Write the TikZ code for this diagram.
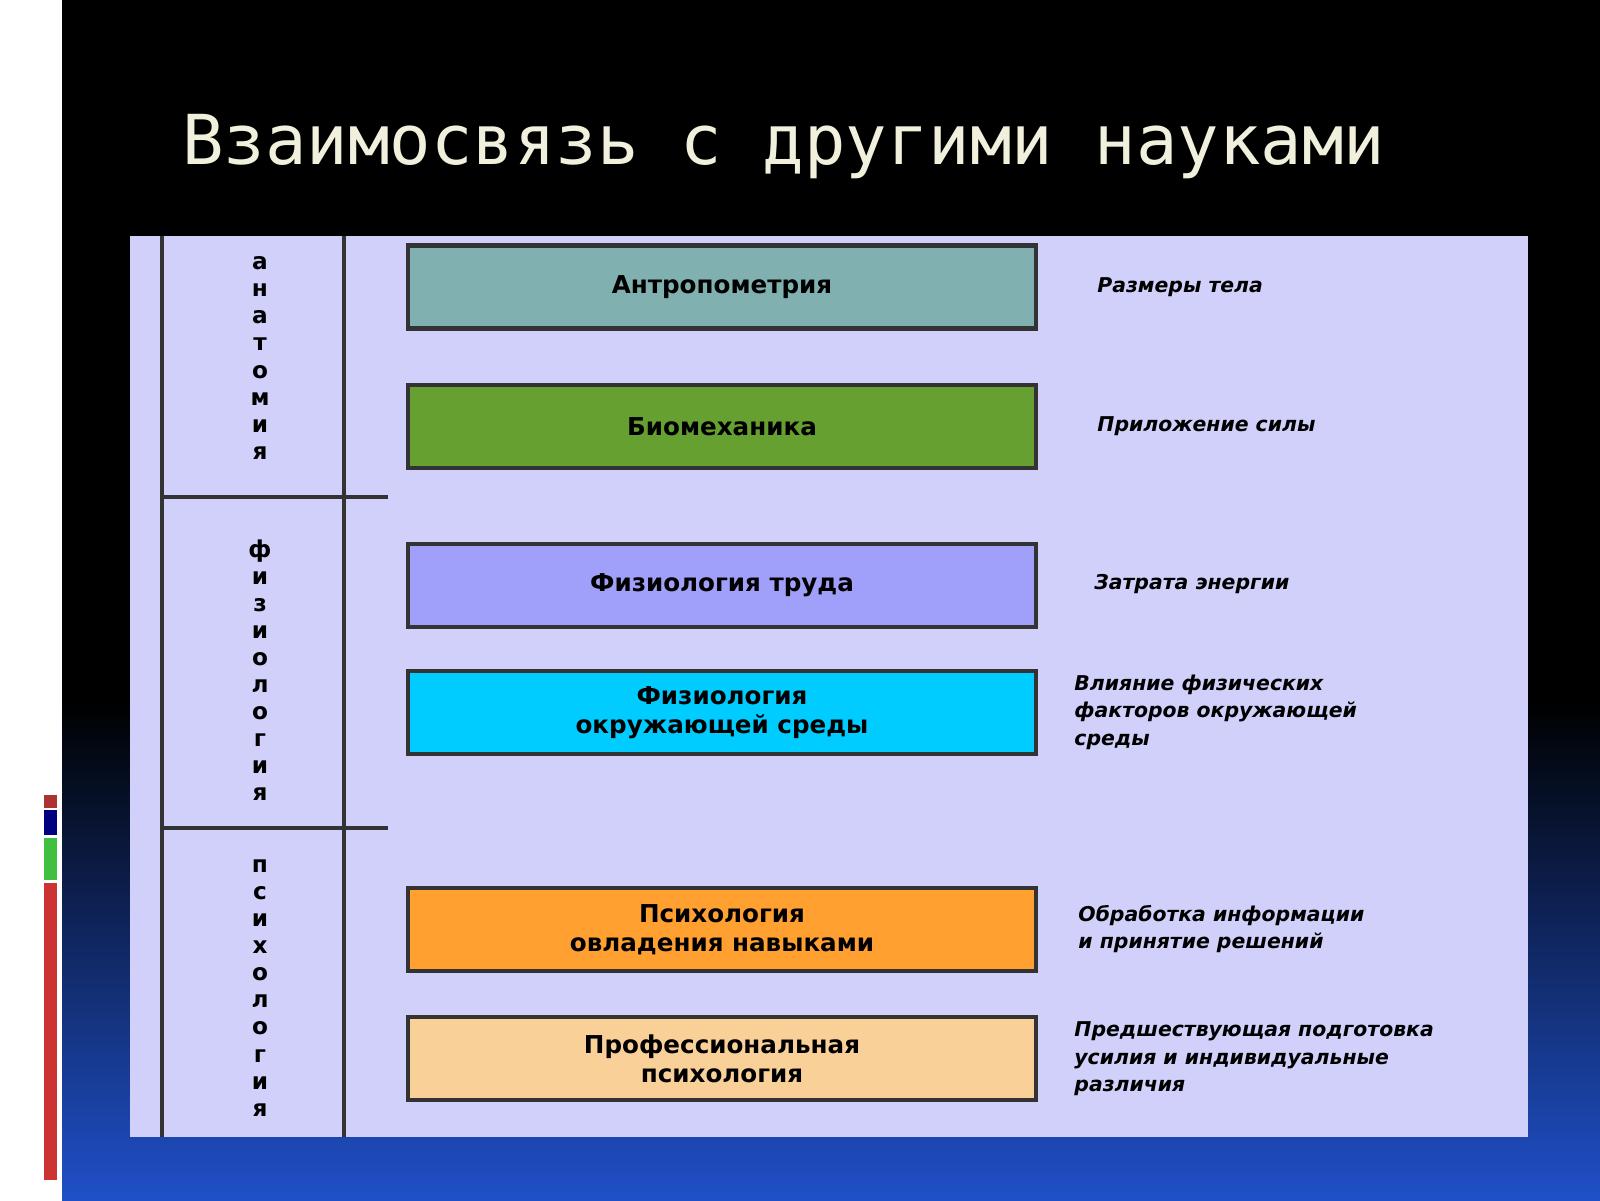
\documentclass[tikz,border=0pt]{standalone}
\usepackage{fontspec}
\setmainfont{DejaVu Sans}
\newfontfamily\titlefont{DejaVu Sans Mono}
\usepackage{tikz}
\definecolor{panelbg}{RGB}{208,208,250}
\definecolor{antrop}{RGB}{128,176,176}
\definecolor{biomech}{RGB}{101,160,48}
\definecolor{fiztrud}{RGB}{160,160,250}
\definecolor{fizsreda}{RGB}{0,204,255}
\definecolor{psihnav}{RGB}{255,160,48}
\definecolor{profpsih}{RGB}{248,208,152}
\definecolor{titlecol}{RGB}{240,240,220}
\definecolor{deepblue}{RGB}{32,80,200}
\tikzset{
  science/.style={draw=black!80, line width=1.2pt, minimum width=6.28cm, minimum height=0.83cm,
    align=center, font=\bfseries\fontsize{7}{8.2}\selectfont},
  effect/.style={anchor=west, align=left, font=\bfseries\itshape\fontsize{5.8}{7.8}\selectfont},
  branch/.style={align=center, font=\bfseries\fontsize{6.6}{7.7}\selectfont},
  divider/.style={line width=1pt, black!80}
}
\begin{document}
\begin{tikzpicture}[x=1cm,y=1cm]
        \useasboundingbox (0,0) rectangle (16,-12);
        % Background
        \fill[white] (0,0) rectangle (0.62,-12);
        \fill[black] (0.62,0) rectangle (16,-7);
        \shade[top color=black, bottom color=deepblue] (0.62,-7) rectangle (16,-12);
        \fill[red!60!black!80] (0.44,-7.95) rectangle (0.57,-8.08);
        \fill[blue!50!black] (0.44,-8.1) rectangle (0.57,-8.35);
        \fill[green!50!gray] (0.44,-8.38) rectangle (0.57,-8.8);
        \fill[red!60!gray] (0.44,-8.83) rectangle (0.57,-11.8);
        
        % Title
        \node[anchor=west, text=titlecol, font=\titlefont\fontsize{19.6}{22}\selectfont] (title) at (1.7,-1.47) {Взаимосвязь с другими науками};
        
        % Panel
        \fill[panelbg] (1.3,-2.36) rectangle (15.28,-11.37);
        \draw[divider] (1.62,-2.36) -- (1.62,-11.37);
        \draw[divider] (3.44,-2.36) -- (3.44,-11.37);
        \draw[divider] (1.62,-4.97) -- (3.88,-4.97);
        \draw[divider] (1.62,-8.28) -- (3.88,-8.28);
        
        % Branches
        \node[branch] (anat) at (2.6,-3.58) {а\\н\\а\\т\\о\\м\\и\\я};
        \node[branch] (fiziol) at (2.6,-6.7) {ф\\и\\з\\и\\о\\л\\о\\г\\и\\я};
        \node[branch] (psih) at (2.6,-9.88) {п\\с\\и\\х\\о\\л\\о\\г\\и\\я};
        
        % Sciences
        \node[science, fill=antrop] (b1) at (7.22,-2.87) {Антропометрия};
        \node[science, fill=biomech] (b2) at (7.22,-4.265) {Биомеханика};
        \node[science, fill=fiztrud] (b3) at (7.22,-5.855) {Физиология труда};
        \node[science, fill=fizsreda] (b4) at (7.22,-7.125) {Физиология\\окружающей среды};
        \node[science, fill=psihnav] (b5) at (7.22,-9.295) {Психология\\овладения навыками};
        \node[science, fill=profpsih] (b6) at (7.22,-10.585) {Профессиональная\\психология};
        
        % Effects
        \node[effect] (e1) at (10.85,-2.87) {Размеры тела};
        \node[effect] (e2) at (10.85,-4.265) {Приложение силы};
        \node[effect] (e3) at (10.82,-5.84) {Затрата энергии};
        \node[effect] (e4) at (10.62,-7.12) {Влияние физических\\факторов окружающей\\среды};
        \node[effect] (e5) at (10.66,-9.29) {Обработка информации\\и принятие решений};
        \node[effect] (e6) at (10.62,-10.59) {Предшествующая подготовка\\усилия и индивидуальные\\различия};
\end{tikzpicture}
\end{document}
